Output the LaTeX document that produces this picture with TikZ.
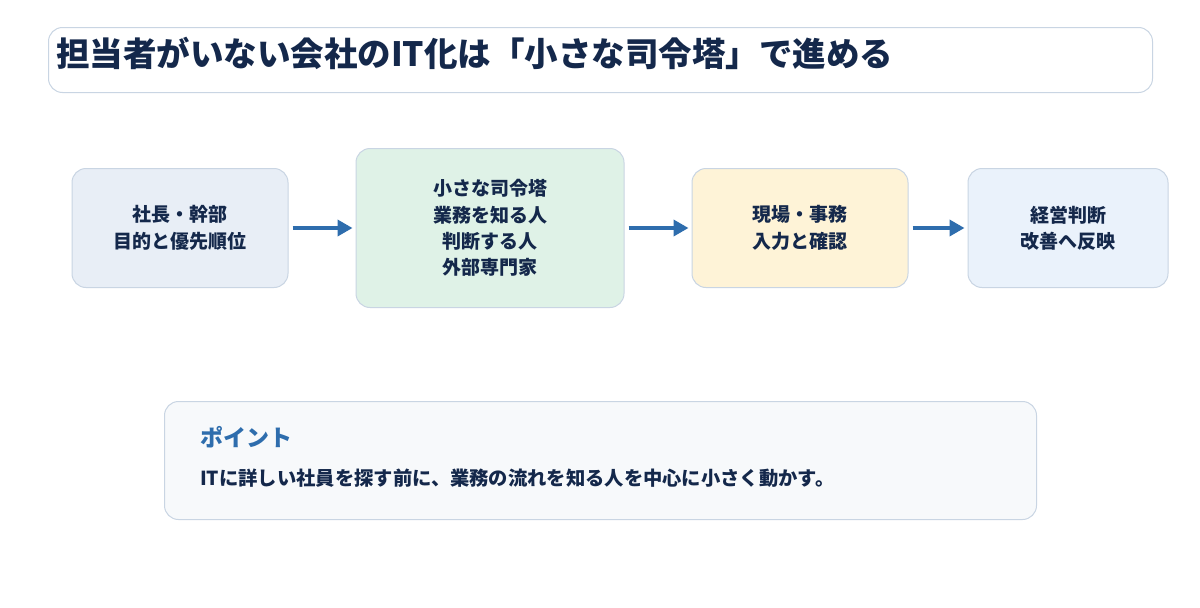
\documentclass[tikz,border=0pt]{standalone}
\usepackage{fontspec}
\setmainfont{Noto Sans CJK JP}[BoldFont={Noto Sans CJK JP Black}]
\usetikzlibrary{arrows.meta}
\definecolor{navy}{HTML}{14284B}
\definecolor{edge}{HTML}{C9D5E3}
\definecolor{accent}{HTML}{2E6DAD}
\definecolor{fA}{HTML}{E8EEF6}
\definecolor{fB}{HTML}{DFF2E7}
\definecolor{fC}{HTML}{FEF3D7}
\definecolor{fD}{HTML}{EAF2FB}
\definecolor{fP}{HTML}{F7F9FB}
\tikzset{
  panel/.style={draw=edge, line width=1pt, rounded corners=14pt},
  stepbox/.style={panel, align=center, font=\fontsize{19}{26.4}\selectfont\bfseries, text=navy, inner sep=0pt},
  flow/.style={draw=accent, line width=3.6pt, -{Triangle[length=15pt,width=16pt]}}
}
\begin{document}
\begin{tikzpicture}[x=1pt,y=-1pt]
\useasboundingbox (0,0) rectangle (1200,608);
\fill[white] (0,0) rectangle (1200,608);
% title
\node[panel, fill=white, minimum width=1104pt, minimum height=65pt, anchor=north west] (title) at (48,27) {};
\node[anchor=west, font=\fontsize{33.5}{38}\selectfont\bfseries, text=navy, inner sep=0pt] (ttext) at (56,53) {担当者がいない会社のIT化は「小さな司令塔」で進める};
% boxes
\node[stepbox, fill=fA, minimum width=216pt, minimum height=119pt] (b1) at (180,228) {社長・幹部\\目的と優先順位};
\node[stepbox, fill=fB, minimum width=268pt, minimum height=159pt] (b2) at (490,228) {小さな司令塔\\業務を知る人\\判断する人\\外部専門家};
\node[stepbox, fill=fC, minimum width=216pt, minimum height=119pt] (b3) at (800,228) {現場・事務\\入力と確認};
\node[stepbox, fill=fD, minimum width=200pt, minimum height=119pt] (b4) at (1068,228) {経営判断\\改善へ反映};
\draw[flow] ([xshift=4pt]b1.east) -- ([xshift=-3pt]b2.west);
\draw[flow] ([xshift=4pt]b2.east) -- ([xshift=-3pt]b3.west);
\draw[flow] ([xshift=4pt]b3.east) -- ([xshift=-3pt]b4.west);
% point box
\node[panel, fill=fP, minimum width=872pt, minimum height=118pt, anchor=north west] (pt) at (164,401) {};
\node[anchor=west, font=\fontsize{23}{27}\selectfont\bfseries, text=accent, inner sep=0pt] (ptitle) at (200,437) {ポイント};
\node[anchor=west, font=\fontsize{19.3}{23}\selectfont\bfseries, text=navy, inner sep=0pt] (pbody) at (200,478) {ITに詳しい社員を探す前に、業務の流れを知る人を中心に小さく動かす。};
\end{tikzpicture}
\end{document}
